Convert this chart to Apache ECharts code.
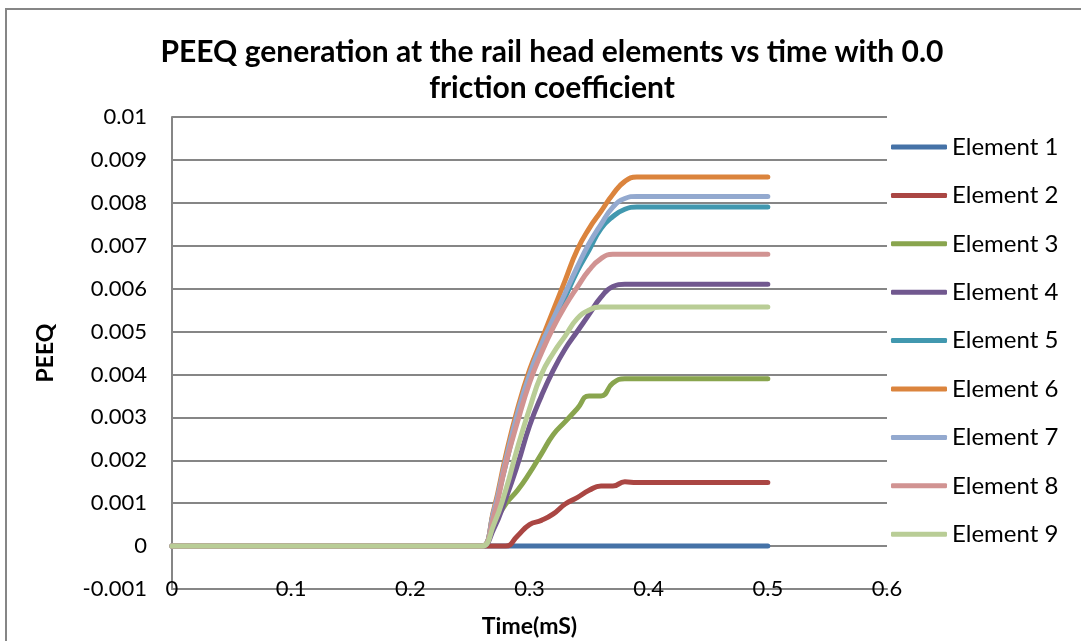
<!DOCTYPE html>
<html>
<head>
<meta charset="utf-8">
<script src="https://cdn.jsdelivr.net/npm/echarts@6/dist/echarts.min.js"></script>
<style>
  html, body { margin: 0; padding: 0; background: #ffffff; }
  #chart { width: 1081px; height: 641px; }
</style>
</head>
<body>
<div id="chart"></div>
<script>
// Time samples (mS)
const time = [0, 0.05, 0.1, 0.15, 0.2, 0.25, 0.26, 0.27, 0.28, 0.29, 0.30, 0.31, 0.32, 0.33, 0.34, 0.35, 0.36, 0.37, 0.38, 0.39, 0.40, 0.45, 0.5];

// PEEQ per rail head element
const element1 = [0, 0, 0, 0, 0, 0, 0, 0, 0, 0, 0, 0, 0, 0, 0, 0, 0, 0, 0, 0, 0, 0, 0];
const element2 = [0, 0, 0, 0, 0, 0, 0, 0, 0, 0.00024, 0.0005, 0.0006, 0.00075, 0.00098, 0.00113, 0.0013, 0.0014, 0.0014, 0.0015, 0.00148, 0.00148, 0.00148, 0.00148];
const element3 = [0, 0, 0, 0, 0, 0, 0, 0.0005, 0.00098, 0.0013, 0.0017, 0.00215, 0.0026, 0.0029, 0.0032, 0.0035, 0.0035, 0.0038, 0.0039, 0.0039, 0.0039, 0.0039, 0.0039];
const element4 = [0, 0, 0, 0, 0, 0, 0, 0.0004, 0.0011, 0.0019, 0.0028, 0.0035, 0.0041, 0.0046, 0.005, 0.0054, 0.0058, 0.00605, 0.0061, 0.0061, 0.0061, 0.0061, 0.0061];
const element5 = [0, 0, 0, 0, 0, 0, 0, 0.0008, 0.0019, 0.003, 0.0039, 0.0046, 0.0052, 0.0058, 0.0064, 0.0069, 0.0074, 0.00768, 0.00785, 0.0079, 0.0079, 0.0079, 0.0079];
const element6 = [0, 0, 0, 0, 0, 0, 0, 0.00085, 0.0021, 0.0032, 0.0041, 0.0048, 0.0055, 0.0062, 0.0069, 0.0074, 0.0078, 0.0082, 0.0085, 0.0086, 0.0086, 0.0086, 0.0086];
const element7 = [0, 0, 0, 0, 0, 0, 0, 0.0008, 0.002, 0.0031, 0.004, 0.0047, 0.0053, 0.0059, 0.0065, 0.00705, 0.0075, 0.0079, 0.0081, 0.00815, 0.00815, 0.00815, 0.00815];
const element8 = [0, 0, 0, 0, 0, 0, 0, 0.0007, 0.0019, 0.0029, 0.0038, 0.0045, 0.0051, 0.0056, 0.00603, 0.00643, 0.0067, 0.0068, 0.0068, 0.0068, 0.0068, 0.0068, 0.0068];
const element9 = [0, 0, 0, 0, 0, 0, 0, 0.0005, 0.0013, 0.0023, 0.0032, 0.004, 0.0045, 0.0049, 0.0053, 0.0055, 0.00557, 0.00557, 0.00557, 0.00557, 0.00557, 0.00557, 0.00557];

const seriesNames = ['Element 1', 'Element 2', 'Element 3', 'Element 4', 'Element 5', 'Element 6', 'Element 7', 'Element 8', 'Element 9'];
const seriesValues = [element1, element2, element3, element4, element5, element6, element7, element8, element9];
const seriesColors = ['#4572A7', '#AA4643', '#89A54E', '#71588F', '#4198AF', '#DB843D', '#93A9CF', '#D19392', '#B9CD96'];

// Axis ranges
const xMin = 0, xMax = 0.6, xStep = 0.1;
const yMin = -0.001, yMax = 0.01, yStep = 0.001;

const FONT = 'Lato, "Open Sans", sans-serif';
const GRID_GRAY = '#868686';

const chart = echarts.init(document.getElementById('chart'), null, { renderer: 'canvas' });

const series = seriesNames.map((name, i) => ({
  name: name,
  type: 'line',
  data: time.map((t, k) => [t, seriesValues[i][k]]),
  smooth: 0.5,
  showSymbol: false,
  symbol: 'none',
  color: seriesColors[i],
  lineStyle: { width: 5, color: seriesColors[i], cap: 'round', join: 'round' },
  emphasis: { disabled: true },
  z: 2 + i
}));

chart.setOption({
  animation: false,
  backgroundColor: '#ffffff',
  title: {
    text: 'PEEQ generation at the rail head elements vs time with 0.0\nfriction coefficient',
    left: 547,
    top: 29,
    textAlign: 'center',
    textStyle: { fontFamily: FONT, fontSize: 30, fontWeight: 'bold', color: '#000', lineHeight: 36 }
  },
  legend: {
    orient: 'vertical',
    left: 891,
    top: 135,
    padding: 0,
    icon: 'roundRect',
    itemWidth: 56,
    itemHeight: 5,
    itemGap: 24.4,
    data: seriesNames,
    textStyle: { fontFamily: FONT, fontSize: 24, color: '#000', lineHeight: 24 }
  },
  grid: { left: 172, top: 117, width: 715, height: 472, containLabel: false, outerBoundsMode: 'none' },
  xAxis: {
    type: 'value',
    min: xMin, max: xMax, interval: xStep,
    name: 'Time(mS)',
    nameLocation: 'middle',
    nameGap: 26,
    nameTextStyle: { fontFamily: FONT, fontSize: 23, fontWeight: 'bold', color: '#000' },
    axisLine: { show: true, onZero: false, lineStyle: { color: GRID_GRAY, width: 2 } },
    axisTick: { show: false },
    splitLine: { show: false },
    axisLabel: {
      margin: 0,
      verticalAlign: 'middle',
      fontFamily: FONT, fontSize: 22, color: '#000',
      formatter: v => String(+v.toFixed(1))
    }
  },
  yAxis: {
    type: 'value',
    min: yMin, max: yMax, interval: yStep,
    name: 'PEEQ',
    nameLocation: 'middle',
    nameGap: 115,
    nameRotate: 90,
    nameTextStyle: { fontFamily: FONT, fontSize: 23, fontWeight: 'bold', color: '#000' },
    axisLine: { show: true, lineStyle: { color: GRID_GRAY, width: 2 } },
    axisTick: { show: false },
    splitLine: { show: true, lineStyle: { color: GRID_GRAY, width: 2 } },
    axisLabel: {
      margin: 25,
      fontFamily: FONT, fontSize: 22, color: '#000',
      formatter: v => String(+v.toFixed(3))
    }
  },
  graphic: [{
    type: 'rect',
    silent: true,
    shape: { x: 6, y: 9, width: 1200, height: 800 },
    style: { fill: null, stroke: GRID_GRAY, lineWidth: 2 },
    z: 0
  }],
  series: series
});
</script>
</body>
</html>
